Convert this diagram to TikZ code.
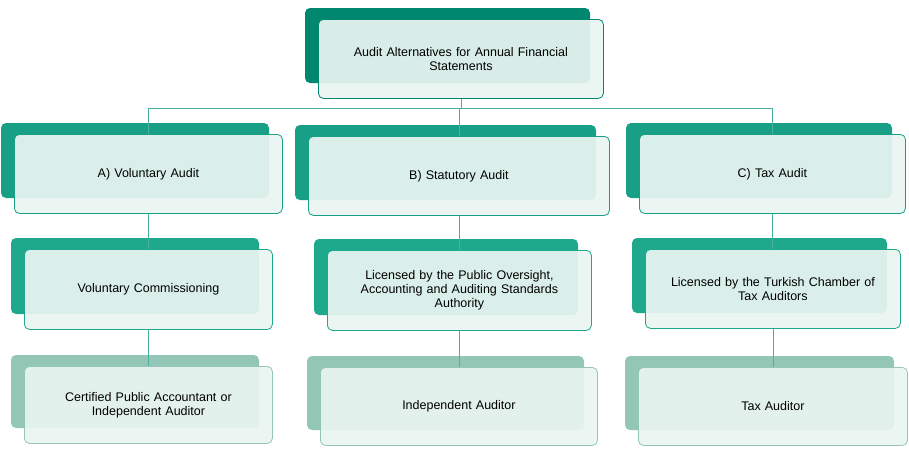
\documentclass[tikz,border=0pt]{standalone}
\usepackage{fontspec}
\setmainfont{Liberation Sans}
\usetikzlibrary{positioning}
\definecolor{topc}{HTML}{00876F}
\definecolor{midc}{HTML}{17A086}
\definecolor{lowc}{HTML}{1EA88C}
\definecolor{botc}{HTML}{94C6B6}
\definecolor{facec}{HTML}{EAF5F2}
\tikzset{
  backbox/.style={fill=#1,rounded corners=5pt},
  facebox/.style={draw=#1,fill=facec,fill opacity=0.93,text opacity=1,rounded corners=5pt,
    align=center,font=\fontsize{12.5}{14}\selectfont,line width=0.8pt},
  link/.style={draw=midc!80,line width=0.7pt}
}
\newcommand{\card}[7]{% name, x1,y1, x2,y2 of the face, colour, text
  \fill[backbox=#6] (#2-13,#3-11) rectangle (#4-13,#5-15);
  \node[facebox=#6,minimum width=#4-#2,minimum height=#5-#3,anchor=north west,text width=#4-#2-20] (#1) at (#2,#3) {#7};
}
\begin{document}
\begin{tikzpicture}[x=1pt,y=-1pt]
\useasboundingbox (0,0) rectangle (909,450);
% top
\card{top}{318}{19}{603}{98}{topc}{Audit Alternatives for Annual Financial\\Statements}
% first row
\card{volA}{14}{134}{282}{213}{midc}{A) Voluntary Audit}
\card{statB}{308}{136}{609}{215}{midc}{B) Statutory Audit}
\card{taxC}{639}{134}{905}{213}{midc}{C) Tax Audit}
% second row
\card{comA}{24}{249}{272}{329}{lowc}{Voluntary Commissioning}
\card{licB}{327}{250}{591}{330}{lowc}{Licensed by the Public Oversight,\\Accounting and Auditing Standards\\Authority}
\card{licC}{645}{249}{900}{328}{lowc}{Licensed by the Turkish Chamber of\\Tax Auditors}
% third row
\card{audA}{24}{366}{272}{443}{botc}{Certified Public Accountant or\\Independent Auditor}
\card{audB}{320}{367}{597}{445}{botc}{Independent Auditor}
\card{audC}{638}{367}{907}{445}{botc}{Tax Auditor}
% connectors
\coordinate (hub) at (top.south |- 0,108);
\draw[link] (top.south) -- (hub);
\draw[link] (volA.north |- hub) -- (taxC.north |- hub);
\foreach \n in {volA,statB,taxC} \draw[link] (\n.north |- hub) -- (\n.north);
\draw[link] (volA.south) -- (volA.south |- comA.north);
\draw[link] (statB.south) -- (statB.south |- licB.north);
\draw[link] (taxC.south) -- (taxC.south |- licC.north);
\draw[link] (comA.south) -- (audA.north);
\draw[link] (licB.south) -- (licB.south |- audB.north);
\draw[link] (licC.south) -- (licC.south |- audC.north);
\end{tikzpicture}
\end{document}
